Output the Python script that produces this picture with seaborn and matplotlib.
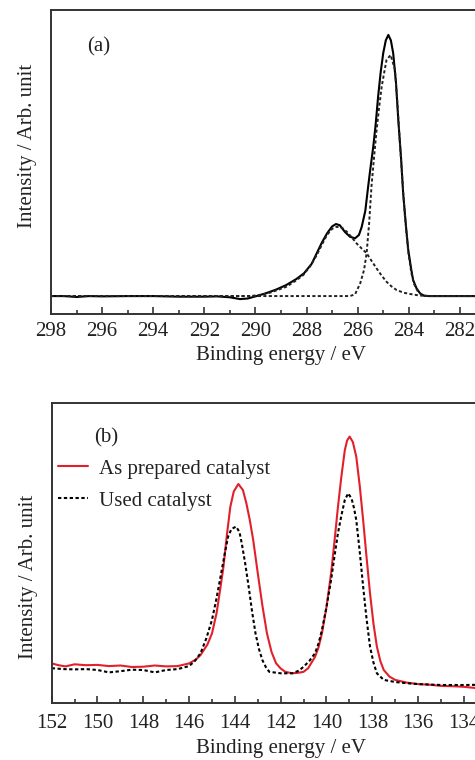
import numpy as np
import pandas as pd
import matplotlib
matplotlib.use("Agg")
import matplotlib.pyplot as plt
from matplotlib.ticker import MultipleLocator
import seaborn as sns

# ---------------- (a) C 1s region ----------------
c1s_energy = [298.0, 297.5, 297.0, 296.5, 296.0, 295.0, 294.0, 293.0, 292.0, 291.5,
              291.0, 290.6, 290.3, 290.0, 289.6, 289.2, 288.8, 288.4, 288.1, 287.8,
              287.6, 287.4, 287.2, 287.0, 286.85, 286.7, 286.5, 286.3, 286.1, 285.95,
              285.84, 285.7, 285.59, 285.5, 285.39, 285.3, 285.2, 285.1, 285.0, 284.9,
              284.8, 284.7, 284.61, 284.5, 284.41, 284.3, 284.22, 284.1, 284.02, 283.9,
              283.83, 283.7, 283.56, 283.4, 283.2, 282.0, 281.0, 280.0]
c1s_measured = [5.9, 5.9, 5.6, 5.9, 5.8, 5.9, 5.9, 5.7, 5.7, 5.8,
                5.5, 4.9, 5.1, 5.8, 6.8, 8.0, 9.5, 11.5, 13.4, 16.5,
                20.0, 23.5, 26.5, 28.8, 29.6, 29.2, 27.0, 25.4, 24.9, 26.0,
                28.7, 34.0, 41.9, 48.0, 55.0, 62.0, 71.5, 79.5, 85.8, 90.0,
                91.8, 90.0, 85.8, 76.0, 63.8, 51.0, 39.7, 28.0, 21.0, 14.5,
                11.2, 8.5, 6.8, 6.0, 5.9, 5.9, 5.9, 5.9]

c1s_fit1_energy = [298.0, 290.0, 286.3, 286.1, 285.9, 285.75, 285.65, 285.55, 285.46, 285.36,
                   285.26, 285.16, 285.06, 284.96, 284.87, 284.71, 284.54, 284.45, 284.36, 284.25,
                   284.15, 284.02, 283.9, 283.8, 283.65, 283.5, 283.3, 280.0]
c1s_fit1 = [5.9, 5.9, 5.9, 6.5, 10.1, 14.5, 20.0, 30.0, 41.9, 51.5,
            60.5, 68.0, 74.8, 79.5, 83.6, 85.2, 80.3, 70.0, 58.0, 44.0,
            32.0, 20.5, 13.5, 10.0, 7.5, 6.3, 5.9, 5.9]

c1s_fit2_energy = [298.0, 290.2, 289.8, 289.43, 289.1, 288.78, 288.45, 288.13, 287.85, 287.6,
                   287.4, 287.2, 287.0, 286.82, 286.6, 286.43, 286.24, 286.04, 285.85, 285.65,
                   285.45, 285.26, 285.06, 284.87, 284.68, 284.48, 284.2, 283.96, 283.6, 283.2,
                   280.0]
c1s_fit2 = [5.9, 5.9, 6.3, 7.0, 8.0, 9.0, 10.8, 12.8, 15.8, 19.4,
            22.8, 26.0, 28.0, 28.7, 28.3, 27.1, 25.3, 23.2, 21.6, 20.0,
            17.4, 15.0, 12.6, 10.6, 9.1, 7.9, 7.0, 6.6, 6.1, 5.9,
            5.9]

# ---------------- (b) second region: two catalysts ----------------
prep_energy = [152.0, 151.7, 151.4, 151.0, 150.5, 150.0, 149.5, 149.0, 148.5, 148.0,
               147.5, 147.0, 146.5, 146.0, 145.7, 145.5, 145.2, 145.0, 144.8, 144.65,
               144.5, 144.35, 144.2, 144.05, 143.85, 143.65, 143.5, 143.35, 143.2, 143.0,
               142.8, 142.6, 142.4, 142.2, 142.0, 141.8, 141.5, 141.2, 141.0, 140.8,
               140.5, 140.35, 140.2, 140.0, 139.8, 139.65, 139.5, 139.35, 139.2, 139.1,
               138.99, 138.85, 138.7, 138.55, 138.4, 138.25, 138.1, 137.95, 137.8, 137.65,
               137.5, 137.25, 137.0, 136.5, 136.0, 135.5, 135.0, 134.5, 134.0, 133.5,
               133.0, 132.0]
prep_intensity = [13.2, 12.6, 12.2, 12.9, 12.6, 12.7, 12.3, 12.5, 12.0, 12.1,
                  12.5, 12.2, 12.3, 13.2, 14.5, 16.0, 19.5, 23.2, 30.0, 37.5,
                  45.4, 56.0, 65.4, 70.5, 73.0, 71.0, 66.6, 61.0, 54.3, 43.2,
                  32.5, 23.2, 17.0, 13.2, 11.5, 10.4, 9.9, 10.1, 10.4, 11.6,
                  15.4, 18.5, 23.2, 32.0, 43.2, 54.0, 65.4, 75.5, 84.3, 87.5,
                  88.8, 87.0, 82.1, 72.5, 61.0, 48.5, 36.6, 26.5, 18.8, 14.0,
                  11.0, 8.8, 7.7, 6.8, 6.3, 6.1, 5.7, 5.6, 5.4, 5.0,
                  5.0, 5.0]

used_energy = [152.0, 151.5, 151.0, 150.5, 150.0, 149.5, 149.0, 148.5, 148.0, 147.5,
               147.0, 146.5, 146.0, 145.75, 145.5, 145.25, 145.0, 144.8, 144.6, 144.45,
               144.3, 144.15, 143.95, 143.8, 143.7, 143.55, 143.4, 143.25, 143.1, 142.95,
               142.8, 142.65, 142.5, 142.0, 141.5, 141.2, 141.0, 140.75, 140.5, 140.35,
               140.2, 140.0, 139.8, 139.65, 139.5, 139.35, 139.2, 139.05, 138.9, 138.8,
               138.7, 138.55, 138.4, 138.25, 138.1, 137.95, 137.8, 137.5, 137.0, 136.5,
               136.0, 135.0, 134.0, 133.0, 132.0]
used_intensity = [11.6, 11.3, 11.2, 11.3, 11.0, 10.2, 10.6, 11.1, 11.0, 10.2,
                  11.0, 11.3, 12.3, 14.0, 16.6, 21.5, 27.7, 35.0, 43.2, 49.5,
                  55.4, 58.0, 58.8, 57.0, 53.2, 46.5, 38.8, 30.5, 23.2, 18.0,
                  14.3, 12.0, 10.4, 9.9, 9.9, 10.8, 12.1, 14.0, 16.6, 19.8,
                  24.3, 32.0, 41.0, 49.0, 56.6, 62.5, 67.7, 69.9, 68.0, 65.0,
                  61.0, 50.5, 38.8, 28.0, 18.8, 13.5, 9.9, 7.7, 7.0, 6.6,
                  6.3, 6.0, 6.0, 6.1, 6.0]

legend_labels = ["As prepared catalyst", "Used catalyst"]
panel_tags = ["(a)", "(b)"]
x_label = "Binding energy / eV"
y_label = "Intensity / Arb. unit"

sns.set_style("ticks")
plt.rcParams["font.family"] = ["Liberation Serif", "DejaVu Serif"]
plt.rcParams["mathtext.fontset"] = "stix"

FS = 15
RED = "#e2202b"
DOT = (0, (1.6, 1.2))

fig = plt.figure(figsize=(4.75, 7.60), dpi=100)
ax_a = fig.add_axes([51 / 475, 1 - 314 / 760, 460 / 475, 304 / 760])
ax_b = fig.add_axes([51.7 / 475, 1 - 703 / 760, 458 / 475, 300 / 760])

# panel (a)
df_meas = pd.DataFrame({"energy": c1s_energy, "intensity": c1s_measured})
df_f1 = pd.DataFrame({"energy": c1s_fit1_energy, "intensity": c1s_fit1})
df_f2 = pd.DataFrame({"energy": c1s_fit2_energy, "intensity": c1s_fit2})
sns.lineplot(data=df_meas, x="energy", y="intensity", ax=ax_a, color="black",
             lw=1.5, sort=False, estimator=None)
sns.lineplot(data=df_f2, x="energy", y="intensity", ax=ax_a, color="#222222",
             lw=1.4, sort=False, estimator=None, linestyle=DOT)
sns.lineplot(data=df_f1, x="energy", y="intensity", ax=ax_a, color="#222222",
             lw=1.4, sort=False, estimator=None, linestyle=DOT)
ax_a.set_xlim(298, 280)
ax_a.set_ylim(0, 100)

# panel (b)
df_prep = pd.DataFrame({"energy": prep_energy, "intensity": prep_intensity})
df_used = pd.DataFrame({"energy": used_energy, "intensity": used_intensity})
sns.lineplot(data=df_prep, x="energy", y="intensity", ax=ax_b, color=RED,
             lw=1.5, sort=False, estimator=None, label=legend_labels[0])
sns.lineplot(data=df_used, x="energy", y="intensity", ax=ax_b, color="black",
             lw=1.5, sort=False, estimator=None, linestyle=DOT, label=legend_labels[1])
ax_b.set_xlim(152, 132)
ax_b.set_ylim(0, 100)

for ax, tick_pad, lab_pad in ((ax_a, 6, 3), (ax_b, 8, 4)):
    ax.xaxis.set_major_locator(MultipleLocator(2))
    ax.xaxis.set_minor_locator(MultipleLocator(1))
    ax.tick_params(axis="x", which="major", direction="in", length=5, width=1.1,
                   labelsize=FS, pad=tick_pad, colors="#222222", top=False)
    ax.tick_params(axis="x", which="minor", direction="in", length=3, width=1.1,
                   top=False)
    ax.set_yticks([])
    ax.set_xlabel(x_label, fontsize=FS, color="#222222", labelpad=lab_pad)
    ax.set_ylabel(y_label, fontsize=FS, color="#222222")
    for side in ("left", "bottom", "top", "right"):
        ax.spines[side].set_visible(True)
        ax.spines[side].set_linewidth(1.4)
        ax.spines[side].set_color("#333333")

ax_a.yaxis.set_label_coords(-0.030, 0.553)
ax_b.yaxis.set_label_coords(-0.030, 0.421)

ax_a.text(0.104, 0.878, panel_tags[0], transform=ax_a.transAxes, fontsize=FS,
          ha="center", va="center", color="#222222")
ax_b.text(0.1186, 0.883, panel_tags[1], transform=ax_b.transAxes, fontsize=FS,
          ha="center", va="center", color="#222222")

leg = ax_b.legend(loc="upper left", bbox_to_anchor=(0.0138, 0.813), frameon=False,
                  fontsize=FS, handlelength=1.45, handletextpad=0.5,
                  labelspacing=0.6, borderpad=0, borderaxespad=0)
for t in leg.get_texts():
    t.set_color("#222222")

fig.savefig("out.png", dpi=100)
